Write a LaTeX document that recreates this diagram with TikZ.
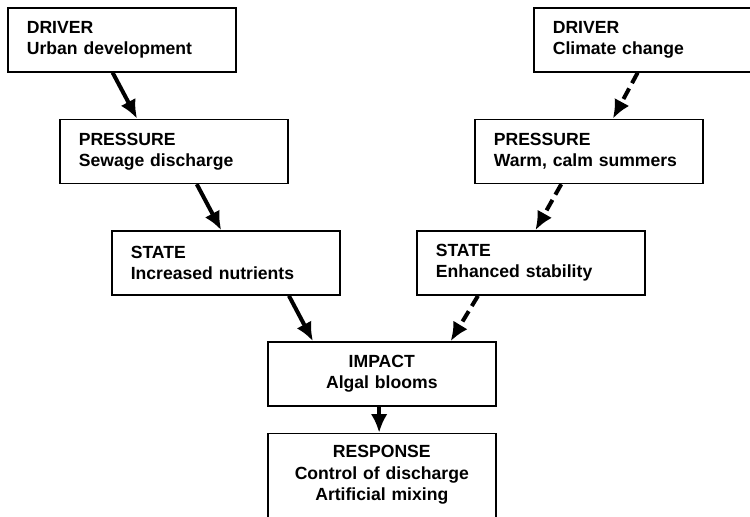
\documentclass[tikz,border=0pt]{standalone}
\usepackage{fontspec}
\setmainfont{Liberation Sans}
\usepackage{tikz}
\usetikzlibrary{calc,positioning,arrows.meta}
\tikzset{
>={Latex[length=14pt,width=12.5pt]},
  chainbox/.style={
    rectangle,
    draw=black, line width=1.2pt,
    minimum width=171pt,
    minimum height=48pt,
    inner xsep=14.25pt,
    text width=142.5pt,
    align=left,
    font=\bfseries\fontsize{13.2}{16}\selectfont},
  midbox/.style={
    chainbox,
    align=center},
  link/.style={draw, line width=3pt, ->},
  dashlink/.style={link, dash pattern=on 9pt off 4.5pt},
}

\begin{document}
\begin{tikzpicture}[x=0.75pt, y=-0.75pt, node distance=34.5pt]
  \useasboundingbox (0,0) rectangle (750,517);

  % left branch: urban development
  \node[chainbox, anchor=north west] (drv-urban) at (7,7) {DRIVER\\Urban development};
  \node[chainbox, below=of drv-urban, xshift=39pt] (prs-sewage) {PRESSURE\\Sewage discharge};
  \node[chainbox, below=of prs-sewage, xshift=39pt] (st-nutrients) {STATE\\Increased nutrients};

  % right branch: climate change
  \node[chainbox, anchor=north west] (drv-climate) at (533,7) {DRIVER\\Climate change};
  \node[chainbox, below=of drv-climate, xshift=-44.25pt] (prs-summers) {PRESSURE\\Warm, calm summers};
  \node[chainbox, below=of prs-summers, xshift=-43.5pt] (st-stability) {STATE\\Enhanced stability};

  % both branches meet here
  \node[midbox, below=34pt of st-nutrients, xshift=117pt] (impact) {IMPACT\\Algal blooms};
  \node[midbox, below=19.5pt of impact, inner ysep=9pt, text depth=60pt] (response)
    {RESPONSE\\Control of discharge\\Artificial mixing};

  \draw[link] ($(drv-urban.south west)!0.46!(drv-urban.south east)$)
    -- ($(prs-sewage.north west)!0.34!(prs-sewage.north east)$);
  \draw[link] ($(prs-sewage.south west)!0.6!(prs-sewage.south east)$)
    -- ($(st-nutrients.north west)!0.48!(st-nutrients.north east)$);
  \draw[link] ($(st-nutrients.south west)!0.775!(st-nutrients.south east)$)
    -- ($(impact.north west)!0.2!(impact.north east)$);

  \draw[dashlink] ($(drv-climate.south west)!0.456!(drv-climate.south east)$)
    -- ($(prs-summers.north west)!0.605!(prs-summers.north east)$);
  \draw[dashlink] ($(prs-summers.south west)!0.38!(prs-summers.south east)$)
    -- ($(st-stability.north west)!0.52!(st-stability.north east)$);
  \draw[dashlink] ($(st-stability.south west)!0.27!(st-stability.south east)$)
    -- ($(impact.north west)!0.8!(impact.north east)$);

  \draw[link] ([xshift=-2pt]impact.south) -- ([xshift=-2pt]response.north);
\end{tikzpicture}
\end{document}
